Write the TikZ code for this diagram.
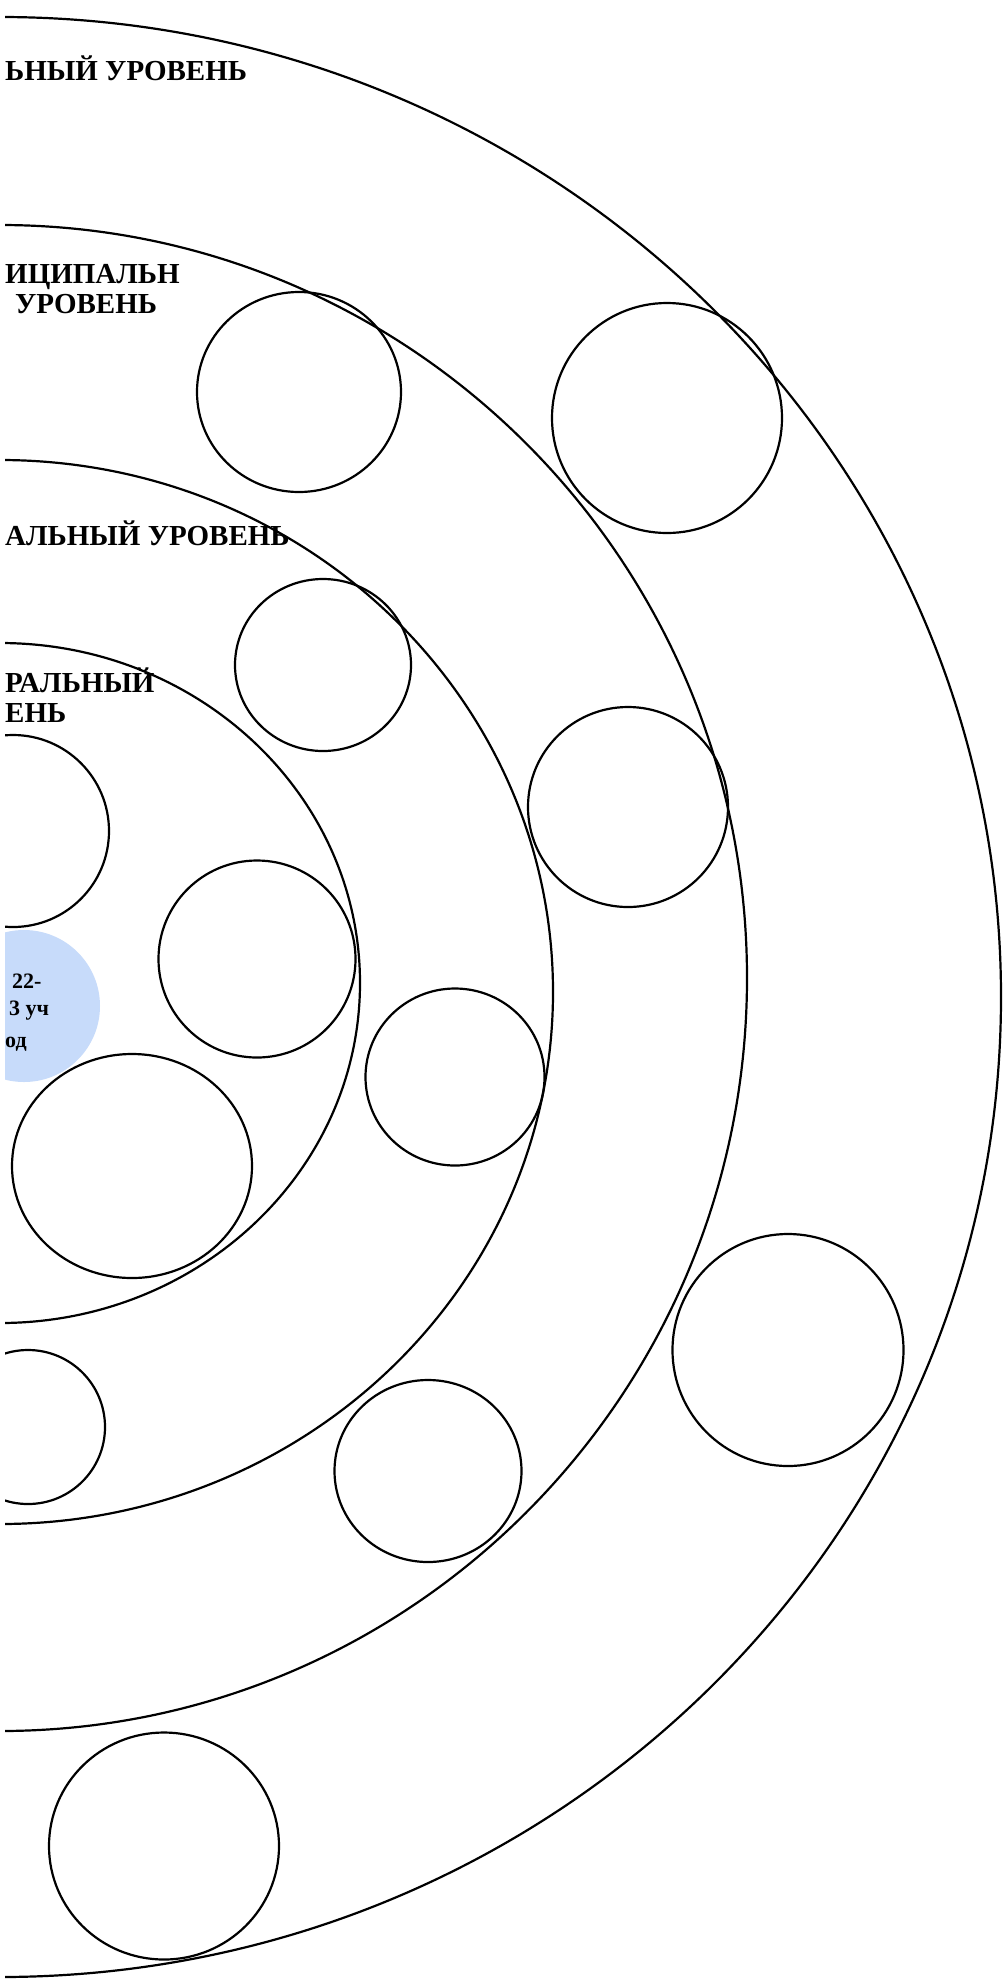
\documentclass[tikz,border=0pt]{standalone}
\usepackage{fontspec}
\setmainfont{Liberation Serif}
\usetikzlibrary{shapes.geometric}
\definecolor{pale}{RGB}{199,219,250}
\begin{document}
\begin{tikzpicture}[x=1pt,y=-1pt,
  bub/.style={ellipse, draw=black, line width=2.2pt, inner sep=0pt, outer sep=0pt},
  lvl/.style={anchor=base west, inner sep=0pt, font=\fontsize{29}{31}\selectfont\bfseries},
  small/.style={anchor=base west, inner sep=0pt, font=\fontsize{22}{24}\selectfont\bfseries},
]
\useasboundingbox (0,0) rectangle (1003,1979);
\fill[white] (0,0) rectangle (1003,1979);
\clip (5,0) rectangle (1003,1979);
% blue circle
\node[ellipse, fill=pale, inner sep=0pt, minimum width=152pt, minimum height=152pt] (year) at (24,1006) {};
% level ellipses
\node[bub, minimum width=2002pt, minimum height=1960pt] (e1) at (0,997) {};
\node[bub, minimum width=1494pt, minimum height=1506pt] (e2) at (0,978) {};
\node[bub, minimum width=1106pt, minimum height=1064pt] (e3) at (0,992) {};
\node[bub, minimum width=720pt, minimum height=680pt] (e4) at (0,983) {};
% small circles
\node[bub, minimum width=204pt, minimum height=200pt] (c1) at (299,392) {};
\node[bub, minimum width=230pt, minimum height=230pt] (c2) at (667,418) {};
\node[bub, minimum width=176pt, minimum height=172pt] (c3) at (323,665) {};
\node[bub, minimum width=200pt, minimum height=200pt] (c4) at (628,807) {};
\node[bub, minimum width=192pt, minimum height=192pt] (c5) at (13,831) {};
\node[bub, minimum width=197pt, minimum height=197pt] (c6) at (257,959) {};
\node[bub, minimum width=179pt, minimum height=177pt] (c8) at (455,1077) {};
\node[bub, minimum width=240pt, minimum height=224pt] (c9) at (132,1166) {};
\node[bub, minimum width=154pt, minimum height=154pt] (c10) at (28,1427) {};
\node[bub, minimum width=187pt, minimum height=182pt] (c11) at (428,1471) {};
\node[bub, minimum width=231pt, minimum height=232pt] (c12) at (788,1350) {};
\node[bub, minimum width=230pt, minimum height=227pt] (c13) at (164,1846) {};
% labels
\node[lvl] (t1) at (5,80) {ЬНЫЙ УРОВЕНЬ};
\node[lvl] (t2) at (5,283) {ИЦИПАЛЬН};
\node[lvl] (t2b) at (15,313) {УРОВЕНЬ};
\node[lvl] (t3) at (5,545) {АЛЬНЫЙ УРОВЕНЬ};
\node[lvl] (t4) at (5,692) {РАЛЬНЫЙ};
\node[lvl] (t4b) at (5,722) {ЕНЬ};
\node[small] (y1) at (12,988) {22-};
\node[small] (y2) at (9,1015) {3 уч};
\node[small] (y3) at (5,1047) {од};
\end{tikzpicture}
\end{document}
